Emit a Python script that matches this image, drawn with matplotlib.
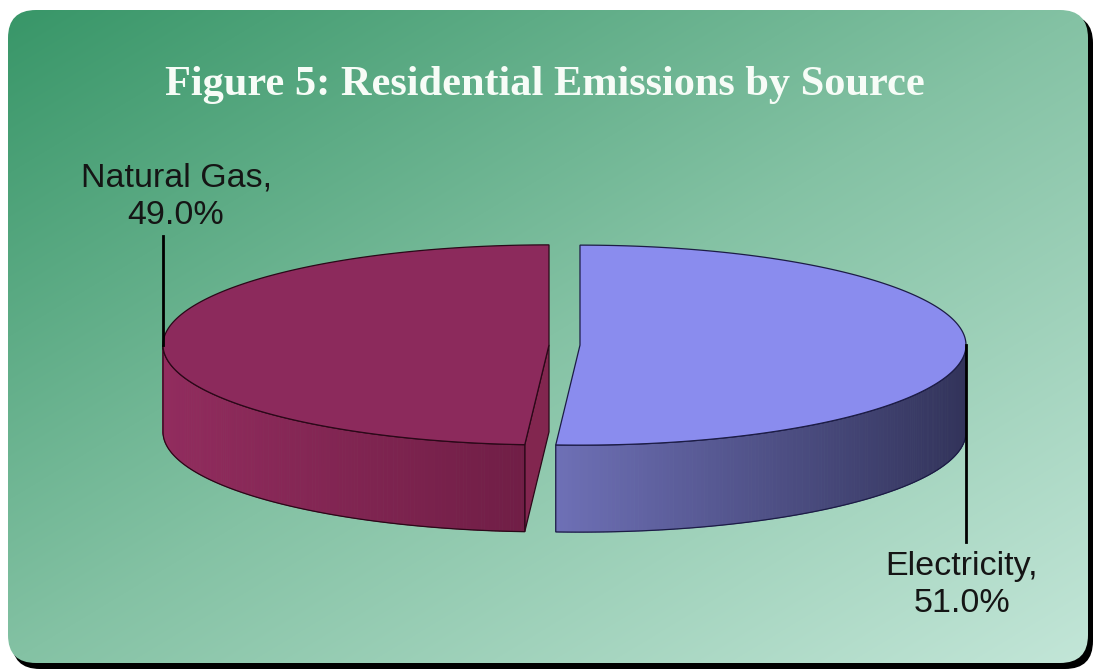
import numpy as np
import matplotlib.pyplot as plt
from matplotlib.patches import FancyBboxPatch, Polygon

# chart data
title = "Figure 5: Residential Emissions by Source"
sources = ["Electricity", "Natural Gas"]
shares = [51.0, 49.0]

# styling
top_colors = ["#8A8CEE", "#8C2A5C"]
side_left = [(110, 112, 182), (146, 44, 94)]
side_right = [(50, 51, 90), (112, 30, 70)]
cut_colors = ["#6E70BE", "#82264F"]
edge_colors = ["#1C1C45", "#2A0818"]

W, H = 1094, 670
CX, CY = 564.5, 345.0      # pie centre (pixels)
RX, RY = 386.0, 100.0      # ellipse radii
DEPTH = 87.0
EXPLODE = 15.5

fig = plt.figure(figsize=(W / 100, H / 100), dpi=100)
ax = fig.add_axes([0, 0, 1, 1])
ax.set_xlim(0, W)
ax.set_ylim(H, 0)
ax.axis("off")

# background frame with shadow and gradient
shadow = FancyBboxPatch((12, 15), 1081, 654, boxstyle="round,pad=0,rounding_size=28",
                        fc="black", ec="none", zorder=0)
ax.add_patch(shadow)
frame = FancyBboxPatch((8, 10), 1080, 653, boxstyle="round,pad=0,rounding_size=28",
                       fc="none", ec="none", zorder=1)
ax.add_patch(frame)

yy, xx = np.mgrid[0:H, 0:W]
t = 0.5 * (xx - 8) / 1080 + 0.5 * (yy - 10) / 653
t = np.clip(t, 0, 1)
stops_t = [0.0, 0.5, 1.0]
stops_c = np.array([(56, 150, 104), (132, 194, 164), (195, 230, 216)]) / 255
img = np.zeros((H, W, 3))
for k in range(3):
    img[..., k] = np.interp(t, stops_t, stops_c[:, k])
bg = ax.imshow(img, extent=(0, W, H, 0), zorder=1, interpolation="bilinear")
bg.set_clip_path(frame)

ax.text(545, 85, title, ha="center", va="center", color="#F7FCF7",
        fontsize=30.5, fontweight="bold", family="Liberation Serif", zorder=5)


def pt(cx, cy, th):
    r = np.radians(th)
    return cx + RX * np.sin(r), cy - RY * np.cos(r)


total = sum(shares)
start = 0.0
for i, (name, val) in enumerate(zip(sources, shares)):
    span = 360.0 * val / total
    a0, a1 = start, start + span
    mid = np.radians((a0 + a1) / 2)
    cx = CX + EXPLODE * np.sin(mid)
    cy = CY - EXPLODE * np.cos(mid) * RY / RX
    ec = edge_colors[i]

    # cut face is visible when the slice starts in the lower-left quarter
    if 180 < a0 < 270:
        px, py = pt(cx, cy, a0)
        face = [(cx, cy), (px, py), (px, py + DEPTH), (cx, cy + DEPTH)]
        ax.add_patch(Polygon(face, closed=True, fc=cut_colors[i], ec=ec, lw=0.9, zorder=3))

    # front side wall with horizontal gradient
    s0, s1 = max(a0, 90), min(a1, 270)
    if s1 > s0:
        th = np.linspace(s0, s1, 160)
        xs, ys = pt(cx, cy, th)
        xmin, xmax = xs.min(), xs.max()
        cl = np.array(side_left[i]) / 255
        cr = np.array(side_right[i]) / 255
        for j in range(len(th) - 1):
            f = ((xs[j] + xs[j + 1]) / 2 - xmin) / (xmax - xmin)
            c = cl + (cr - cl) * f
            quad = [(xs[j], ys[j]), (xs[j + 1], ys[j + 1]),
                    (xs[j + 1], ys[j + 1] + DEPTH), (xs[j], ys[j] + DEPTH)]
            ax.add_patch(Polygon(quad, closed=True, fc=c, ec=c, lw=0.6, zorder=3))
        outline = list(zip(xs, ys)) + list(zip(xs[::-1], ys[::-1] + DEPTH))
        ax.add_patch(Polygon(outline, closed=True, fc="none", ec=ec, lw=0.9, zorder=3.5))

    # top surface
    th = np.linspace(a0, a1, 300)
    xs, ys = pt(cx, cy, th)
    top = [(cx, cy)] + list(zip(xs, ys))
    ax.add_patch(Polygon(top, closed=True, fc=top_colors[i], ec=ec, lw=0.9, zorder=4))

    # label with leader line
    label = f"{name},\n{val:.1f}%"
    if np.sin(mid) > 0:
        lx, ly = cx + RX, cy
        ax.plot([lx, lx], [ly, ly + 197], color="black", lw=2, zorder=5)
        ax.text(lx - 4, ly + 240, label, ha="center", va="center", color="#151515",
                fontsize=24.5, family="Liberation Sans", linespacing=1.28, zorder=5)
    else:
        lx, ly = cx - RX, cy
        ax.plot([lx, lx], [ly, ly - 109], color="black", lw=2, zorder=5)
        ax.text(lx + 13, ly - 148, label, ha="center", va="center", color="#151515",
                fontsize=24.5, family="Liberation Sans", linespacing=1.28, zorder=5)

    start = a1

fig.savefig("out.png", dpi=100)
